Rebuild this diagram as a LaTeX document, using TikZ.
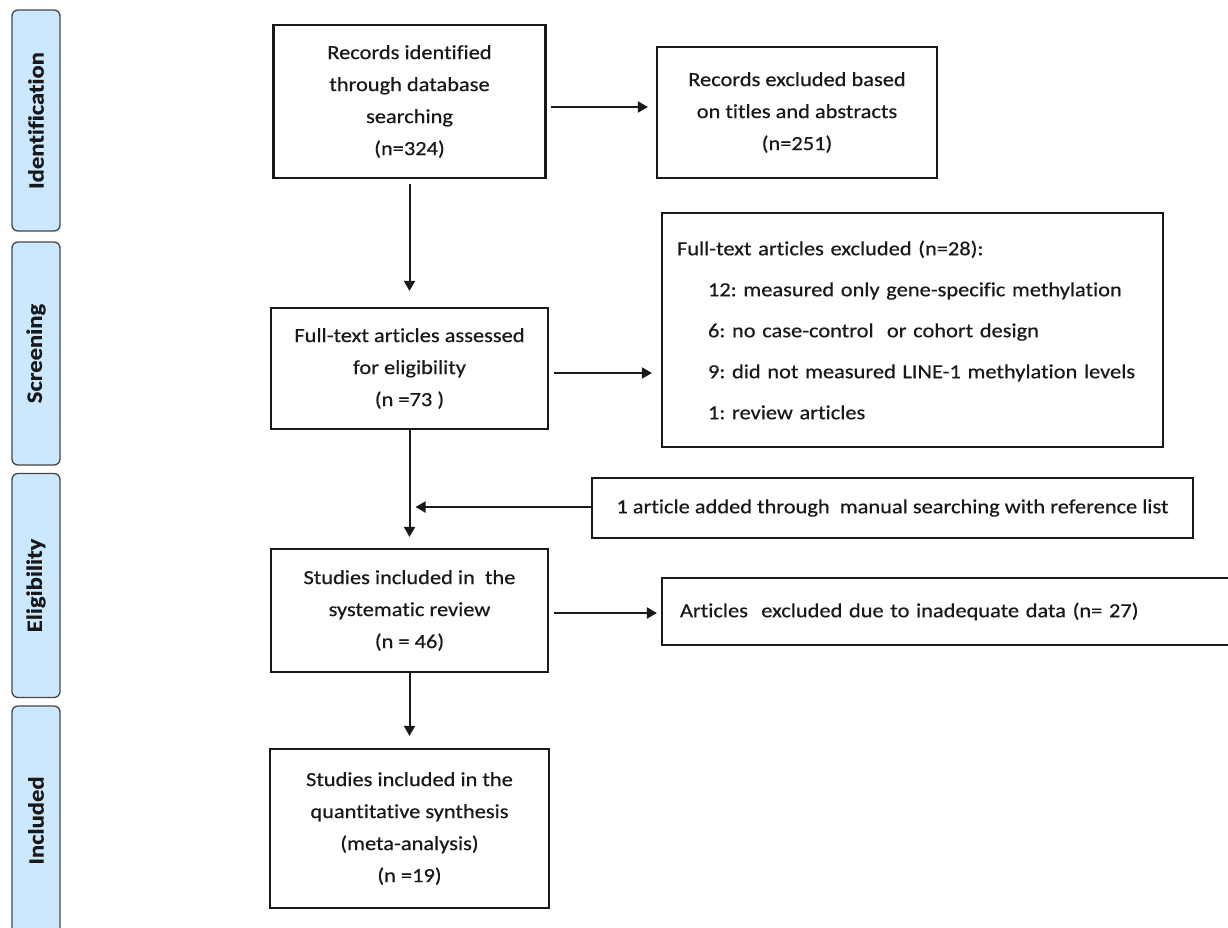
\documentclass[tikz,border=0pt]{standalone}
\usepackage{fontspec}
\setmainfont{Carlito}[FakeStretch=1.12,FakeBold=0.5,Ligatures=NoCommon]
\usetikzlibrary{arrows.meta}
\definecolor{sidefill}{RGB}{204,232,255}
\definecolor{sideline}{RGB}{70,70,70}
\definecolor{linecol}{RGB}{25,25,25}
\frenchspacing
\begin{document}
\begin{tikzpicture}[x=1pt,y=-1pt,
  box/.style={draw=linecol, line width=2.2pt, inner sep=0pt, align=center,
    font=\fontsize{20}{32}\selectfont, text=linecol},
  side/.style={draw=sideline, line width=1.3pt, fill=sidefill, rounded corners=6pt,
    rotate=90, inner sep=0pt, minimum height=48pt,
    font=\fontsize{22}{26}\selectfont\bfseries, text=linecol},
  arr/.style={draw=linecol, line width=2pt, -{Triangle[length=10pt,width=11pt]}}]
\fill[white] (0,0) rectangle (1228,927);
\useasboundingbox (0,0) rectangle (1228,927);

% phase bars
\node[side, minimum width=221pt] (s1) at (36,120.5) {Identification};
\node[side, minimum width=223pt] (s2) at (36,353.5) {Screening};
\node[side, minimum width=224pt] (s3) at (36,585.5) {Eligibility};
\node[side, minimum width=229pt] (s4) at (36,820.5) {Included};

% boxes
\node[box, minimum width=272pt, minimum height=153pt] (b1) at (409.5,101.5)
  {Records identified\\through database\\searching\\(n=324)};
\node[box, minimum width=280pt, minimum height=131pt] (b2) at (797,112.5)
  {Records excluded based\\on titles and abstracts\\(n=251)};
\node[box, minimum width=277pt, minimum height=121pt] (b3) at (409.5,368.5)
  {Full-text articles assessed\\for eligibility\\(n =73 )};
\node[box, minimum width=501pt, minimum height=234pt, inner xsep=15pt,
  text width=471pt, align=left, font=\fontsize{20}{41}\selectfont] (b4) at (912.5,330)
  {Full-text articles excluded (n=28):\\
   \hspace*{31pt}12: measured only gene-specific methylation\\
   \hspace*{31pt}6: no case-control\ \ or cohort design\\
   \hspace*{31pt}9: did not measured LINE-1 methylation levels\\
   \hspace*{31pt}1: review articles};
\node[box, minimum width=601pt, minimum height=60pt] (ba) at (892.5,508)
  {1 article added through\ \ manual searching with reference list};
\node[box, minimum width=277pt, minimum height=123pt] (b5) at (409.5,610.5)
  {Studies included in\ \ the\\systematic review\\(n = 46)};
\node[box, minimum width=578pt, minimum height=67pt, inner xsep=18pt,
  text width=542pt, align=left] (b6) at (951,611.5)
  {Articles\ \ excluded due to inadequate data (n= 27)};
\node[box, minimum width=279pt, minimum height=159pt] (b7) at (409.5,828.5)
  {Studies included in the\\quantitative synthesis\\(meta-analysis)\\(n =19)};

% connectors
\draw[arr, shorten <=4pt, shorten >=8pt] (b1.east |- 0,107) -- (b2.west |- 0,107);
\draw[arr, shorten <=5pt, shorten >=16pt] (b1.south) -- (b3.north);
\draw[arr, shorten <=5pt, shorten >=9pt] (b3.east |- 0,373) -- (b4.west |- 0,373);
\draw[arr, shorten >=11pt] (b3.south) -- (b5.north);
\coordinate (j) at (409.5,507);
\draw[arr, shorten >=6pt] (ba.west |- j) -- (j);
\draw[arr, shorten <=5pt, shorten >=4pt] (b5.east |- 0,613) -- (b6.west |- 0,613);
\draw[arr, shorten >=12pt] (b5.south) -- (b7.north);
\end{tikzpicture}
\end{document}
